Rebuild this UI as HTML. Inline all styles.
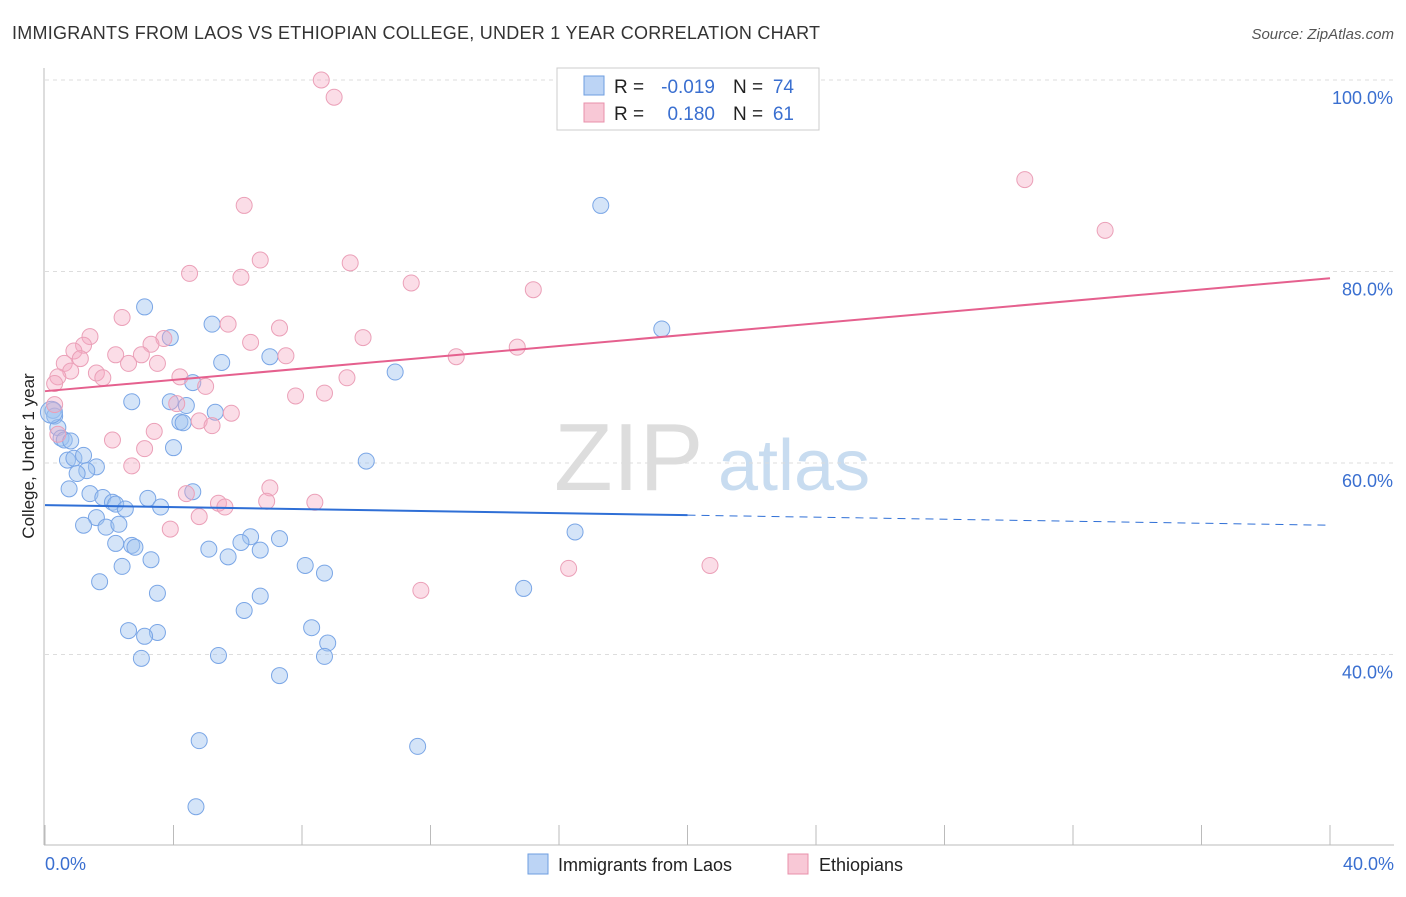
<!DOCTYPE html>
<html><head><meta charset="utf-8"><style>
body{margin:0;background:#fff;font-family:"Liberation Sans",sans-serif;}
svg text{font-family:"Liberation Sans",sans-serif;}
</style></head><body>
<svg id="chart" width="1406" height="892" xmlns="http://www.w3.org/2000/svg">
<text x="12" y="39" font-size="18" fill="#333" textLength="808">IMMIGRANTS FROM LAOS VS ETHIOPIAN COLLEGE, UNDER 1 YEAR CORRELATION CHART</text>
<text x="1394" y="39" font-size="15" fill="#555" font-style="italic" text-anchor="end">Source: ZipAtlas.com</text>
<text x="554" y="490" font-size="96" fill="#ddd" font-family="Liberation Serif">ZIP</text>
<text x="718" y="490" font-size="72" fill="#c8dcf0">atlas</text>
<g id="grid"></g><g id="axes"></g><g id="marks"></g>
<text transform="translate(34,456) rotate(-90)" font-size="17" fill="#222" text-anchor="middle">College, Under 1 year</text>
<g>
<rect x="557" y="68" width="262" height="62" fill="#fff" stroke="#ccc"/>
<rect x="584" y="76" width="20" height="19" fill="#bcd4f5" stroke="#6e9ee0"/>
<text x="614" y="93" font-size="19" fill="#222">R =</text>
<text x="715" y="93" font-size="19" fill="#3a6fd0" text-anchor="end">-0.019</text>
<text x="733" y="93" font-size="19" fill="#222">N =</text>
<text x="794" y="93" font-size="19" fill="#3a6fd0" text-anchor="end">74</text>
<rect x="584" y="103" width="20" height="19" fill="#f8c8d6" stroke="#e890ab"/>
<text x="614" y="120" font-size="19" fill="#222">R =</text>
<text x="715" y="120" font-size="19" fill="#3a6fd0" text-anchor="end">0.180</text>
<text x="733" y="120" font-size="19" fill="#222">N =</text>
<text x="794" y="120" font-size="19" fill="#3a6fd0" text-anchor="end">61</text>
</g>
<g>
<rect x="528" y="854" width="20" height="20" fill="#bcd4f5" stroke="#6e9ee0"/>
<text x="558" y="871" font-size="18" fill="#222">Immigrants from Laos</text>
<rect x="788" y="854" width="20" height="20" fill="#f8c8d6" stroke="#e890ab"/>
<text x="819" y="871" font-size="18" fill="#222">Ethiopians</text>
</g>
</svg>
<script>
const yTicks=[40,60,80,100];
const yTickLabels=["40.0%","60.0%","80.0%","100.0%"];
const xTicks=[0,4,8,12,16,20,24,28,32,36,40];
const blueX=[17.3,19.2,3.1,5.2,3.9,7.0,5.5,10.9,4.6,2.7,3.9,4.4,5.3,0.25,0.3,4.2,4.3,0.4,0.5,0.6,4.0,0.8,0.7,0.9,1.2,10.0,1.6,1.3,1.0,0.75,1.4,1.8,3.2,4.6,2.1,2.2,2.5,3.6,1.6,1.2,1.9,2.3,16.5,6.4,7.3,6.1,2.2,2.7,2.8,5.1,6.7,5.7,3.3,2.4,8.1,8.7,1.7,14.9,3.5,6.7,6.2,8.3,2.6,3.5,3.1,8.8,8.7,5.4,3.0,7.3,4.8,11.6,4.7,0.2];
const blueY=[86.9,74.0,76.3,74.5,73.1,71.1,70.5,69.5,68.4,66.4,66.4,66.0,65.3,65.5,64.9,64.3,64.2,63.7,62.6,62.4,61.6,62.3,60.3,60.5,60.8,60.2,59.6,59.2,58.9,57.3,56.8,56.4,56.3,57.0,55.9,55.7,55.2,55.4,54.3,53.5,53.3,53.6,52.8,52.3,52.1,51.7,51.6,51.4,51.2,51.0,50.9,50.2,49.9,49.2,49.3,48.5,47.6,46.9,46.4,46.1,44.6,42.8,42.5,42.3,41.9,41.2,39.8,39.9,39.6,37.8,31.0,30.4,24.1,65.3];
const pinkX=[8.6,9.0,30.5,33.0,6.2,6.7,9.5,4.5,6.1,11.4,15.2,2.4,5.7,7.3,1.4,3.7,9.9,1.2,6.4,3.3,0.9,14.7,2.2,3.0,7.5,12.8,1.1,0.6,2.6,3.5,0.8,1.6,0.4,1.8,4.2,9.4,5.0,0.3,7.8,8.7,4.1,0.3,5.8,4.8,5.2,3.4,0.4,2.1,3.1,2.7,7.0,4.4,5.4,6.9,8.4,5.6,4.8,3.9,16.3,20.7,11.7];
const pinkY=[100.0,98.2,89.6,84.3,86.9,81.2,80.9,79.8,79.4,78.8,78.1,75.2,74.5,74.1,73.2,73.0,73.1,72.3,72.6,72.4,71.7,72.1,71.3,71.3,71.2,71.1,70.9,70.4,70.4,70.4,69.6,69.4,69.0,68.9,69.0,68.9,68.0,68.3,67.0,67.3,66.2,66.1,65.2,64.4,63.9,63.3,63.0,62.4,61.5,59.7,57.4,56.8,55.8,56.0,55.9,55.4,54.4,53.1,49.0,49.3,46.7];
const blueTrend=[55.6,53.5];
const pinkTrend=[67.5,79.3];
const NS="http://www.w3.org/2000/svg";
const X=v=>45+v/40*1285;
const Y=v=>463-(v-60)/20*191.5;
function mk(tag,attrs,parent){const e=document.createElementNS(NS,tag);for(const k in attrs)e.setAttribute(k,attrs[k]);parent.appendChild(e);return e;}
const grid=document.getElementById('grid'),axes=document.getElementById('axes'),marks=document.getElementById('marks');
yTicks.forEach((t,i)=>{
 const l=mk('line',{x1:45,x2:1394,y1:Y(t),y2:Y(t),stroke:'#ddd','stroke-dasharray':'4,4'},grid);
 
 
 const tx=mk('text',{x:1393,y:Y(t)+24,'font-size':18,fill:'#3a6fd0','text-anchor':'end'},axes);
 tx.textContent=yTickLabels[i];
 
 
});
let a=mk('line',{x1:44,x2:44,y1:68,y2:845,stroke:'#bbb'},axes);


a=mk('line',{x1:44,x2:1394,y1:845,y2:845,stroke:'#bbb'},axes);


xTicks.forEach(t=>{
 const l=mk('line',{x1:X(t),x2:X(t),y1:825,y2:845,stroke:'#bbb'},axes);
 
 
});
let t0=mk('text',{x:45,y:870,'font-size':18,fill:'#3a6fd0'},axes);t0.textContent='0.0%';


let t1=mk('text',{x:1394,y:870,'font-size':18,fill:'#3a6fd0','text-anchor':'end'},axes);t1.textContent='40.0%';


function pts(xs,ys,fill,stroke,name){xs.forEach((x,i)=>{
 const c=mk('circle',{cx:X(x),cy:Y(ys[i]),r:(name==='point-laos'&&i===xs.length-1)?11:8,fill:fill,stroke:stroke,'stroke-width':1},marks);
 
 
});}
pts(blueX,blueY,'rgba(160,195,240,0.45)','#7aa6e6','point-laos');
pts(pinkX,pinkY,'rgba(245,170,195,0.4)','#eba0b8','point-ethiopians');
const b1=blueTrend[0]+(blueTrend[1]-blueTrend[0])*0.5;
let l=mk('line',{x1:X(0),y1:Y(blueTrend[0]),x2:X(20),y2:Y(b1),stroke:'#2f6fd6','stroke-width':2},marks);


l=mk('line',{x1:X(20),y1:Y(b1),x2:X(40),y2:Y(blueTrend[1]),stroke:'#2f6fd6','stroke-width':1,'stroke-dasharray':'8,6'},marks);


l=mk('line',{x1:X(0),y1:Y(pinkTrend[0]),x2:X(40),y2:Y(pinkTrend[1]),stroke:'#e5608e','stroke-width':2},marks);


</script>
</body></html>
